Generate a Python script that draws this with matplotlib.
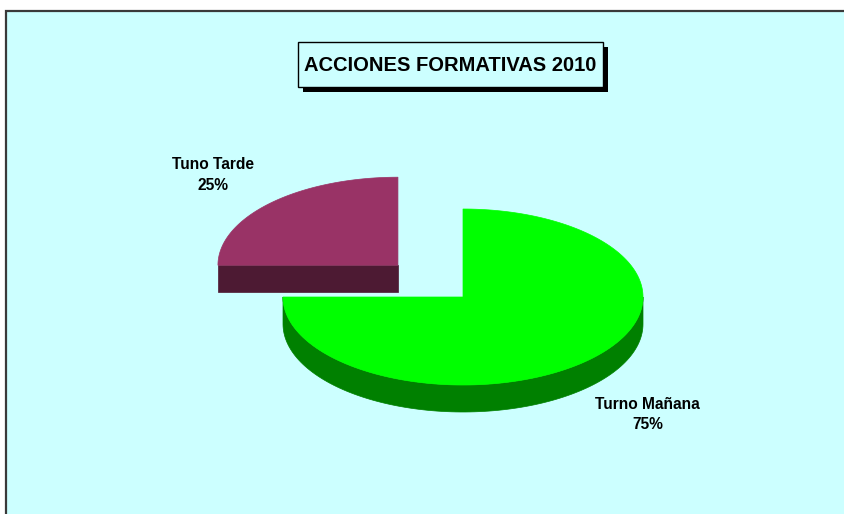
import numpy as np
import matplotlib
matplotlib.use('Agg')
import matplotlib.pyplot as plt
from matplotlib.patches import Polygon, Rectangle

# chart data
labels = ['Turno Mañana', 'Tuno Tarde']
values = [75, 25]
exploded = [False, True]
title = 'ACCIONES FORMATIVAS 2010'

# look
top_colors = ['#00FF00', '#993366']
side_colors = ['#008000', '#4D1A33']
bg = '#CCFFFF'

W, H = 845, 514
fig = plt.figure(figsize=(W / 100, H / 100), dpi=100)
ax = fig.add_axes([0, 0, 1, 1])
ax.set_xlim(0, W)
ax.set_ylim(H, 0)
ax.axis('off')

# chart area
ax.add_patch(Rectangle((6, 11), W, H, facecolor=bg, edgecolor='#3a3a3a', lw=1.6, zorder=0))

# pie geometry (pixels)
cx, cy = 463, 297
rx, ry = 180, 88
depth = 27
explode_dist = 92


def pt(x0, y0, t, dz=0.0):
    return (x0 + rx * np.cos(t), y0 - ry * np.sin(t) + dz)


total = sum(values)
start = 90.0  # 12 o'clock, going clockwise
slices = []
for i, v in enumerate(values):
    sweep = 360.0 * v / total
    a1 = start
    a0 = start - sweep
    start = a0
    slices.append((i, a0, a1))

# draw back slices first
order = sorted(slices, key=lambda s: -np.sin(np.radians((s[1] + s[2]) / 2)))
for i, a0, a1 in order:
    mid = np.radians((a0 + a1) / 2)
    x0, y0 = cx, cy
    if exploded[i]:
        x0 += explode_dist * np.cos(mid)
        y0 -= explode_dist * np.sin(mid) * ry / rx

    # outer side (front part only)
    segs = []
    for base in (-360, 0, 360):
        s0, s1 = max(a0, 180 + base), min(a1, 360 + base)
        if s1 > s0:
            segs.append((s0, s1))
    for s0, s1 in segs:
        t = np.radians(np.linspace(s0, s1, 120))
        upper = [pt(x0, y0, tt) for tt in t]
        lower = [pt(x0, y0, tt, depth) for tt in t[::-1]]
        ax.add_patch(Polygon(upper + lower, closed=True, facecolor=side_colors[i],
                             edgecolor=side_colors[i], lw=0.5, zorder=2))

    # radial cut faces
    for ang, nrm in ((a0, a0 - 90), (a1, a1 + 90)):
        if np.sin(np.radians(nrm)) < -1e-6:
            t = np.radians(ang)
            p = pt(x0, y0, t)
            face = [(x0, y0), p, (p[0], p[1] + depth), (x0, y0 + depth)]
            ax.add_patch(Polygon(face, closed=True, facecolor=side_colors[i],
                                 edgecolor=side_colors[i], lw=0.5, zorder=2))

    # top face
    t = np.radians(np.linspace(a0, a1, 200))
    top = [(x0, y0)] + [pt(x0, y0, tt) for tt in t]
    ax.add_patch(Polygon(top, closed=True, facecolor=top_colors[i],
                         edgecolor=top_colors[i], lw=0.5, zorder=3))

    # label
    k = 1.45
    lx = x0 + k * rx * np.cos(mid)
    ly = y0 - k * ry * np.sin(mid) + (depth if np.sin(mid) < 0 else 0)
    pct = 100.0 * values[i] / total
    ax.text(lx, ly, f'{labels[i]}\n{pct:.0f}%', ha='center', va='center',
            fontsize=11.2, fontweight='bold', family='Liberation Sans',
            linespacing=1.45, zorder=5)

# title box with shadow
bx, by, bw, bh = 298, 42, 305, 45
ax.add_patch(Rectangle((bx + 5, by + 5), bw, bh, facecolor='black', edgecolor='none', zorder=6))
ax.add_patch(Rectangle((bx, by), bw, bh, facecolor=bg, edgecolor='black', lw=1, zorder=7))
ax.text(bx + bw / 2, by + bh / 2 + 1, title, ha='center', va='center',
        fontsize=14.5, fontweight='bold', family='Liberation Sans', zorder=8)

fig.savefig('out.png', dpi=100, facecolor='white')
